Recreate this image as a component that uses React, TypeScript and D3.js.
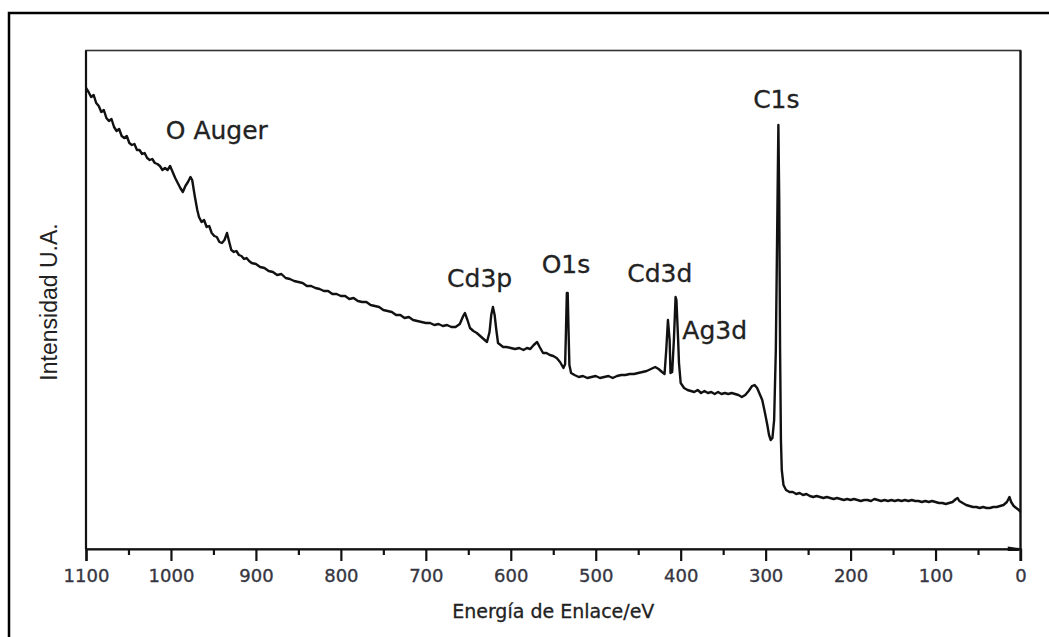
import React, { useEffect, useRef } from 'react';
import * as d3 from 'd3';

// XPS survey spectrum: [binding energy eV, intensity a.u.]
const augerRegion: [number, number][] = [
  [1100, 461], [1097, 457], [1094, 452], [1091, 454], [1088, 446], [1085, 443], [1082, 437],
  [1079, 439], [1076, 431], [1073, 428], [1070, 430], [1067, 422], [1064, 418], [1061, 420],
  [1058, 413], [1055, 411], [1052, 413], [1049, 406], [1046, 404], [1043, 405], [1040, 399],
  [1037, 399], [1034, 395], [1031, 396], [1028, 391], [1025, 389], [1022, 390], [1019, 386],
  [1016, 385], [1013, 383], [1010, 379], [1007, 381], [1004, 379], [1001, 383], [998, 377],
  [995, 371], [992, 366], [989, 361], [986, 357], [983, 363], [980, 367], [977, 372], [975, 369],
  [972, 353], [969, 339], [967, 332], [964, 327], [961, 329], [958, 322], [955, 323], [952, 316],
  [949, 313], [946, 312], [943, 307], [940, 306], [937, 309], [934, 316], [932, 309], [929, 299],
  [926, 297], [923, 298], [920, 294], [917, 293], [914, 290], [911, 291], [908, 288], [905, 286],
];

const backgroundRegion: [number, number][] = [
  [900, 285], [895, 282], [890, 281], [885, 278], [880, 277], [875, 274], [870, 275], [865, 271],
  [860, 270], [855, 268], [850, 267], [845, 266], [840, 263], [835, 263], [830, 261], [825, 260],
  [820, 258], [815, 258], [810, 255], [805, 255], [800, 253], [795, 253], [790, 250], [785, 251],
  [780, 248], [775, 247], [770, 247], [765, 244], [760, 243], [755, 242], [750, 239], [745, 238],
  [740, 237], [735, 234], [730, 234], [725, 231], [720, 232], [715, 229], [710, 228], [705, 227],
  [700, 226], [695, 226], [690, 224], [685, 225], [680, 223], [675, 224], [670, 222], [665, 222],
];

const cd3pRegion: [number, number][] = [
  [660, 225], [656, 233], [654, 236], [651, 229], [648, 221], [644, 218], [640, 216], [636, 213],
  [632, 210], [628, 207], [625, 217], [623, 234], [621, 242], [619, 234], [617, 219], [615, 206],
  [612, 204], [609, 202], [605, 202], [600, 201], [595, 200], [590, 201], [585, 199], [581, 201],
  [577, 200], [573, 204], [569, 207], [566, 202], [562, 196], [558, 196], [554, 194], [550, 193],
  [546, 191], [542, 187], [538, 181],
];

const o1sRegion: [number, number][] = [
  [536, 185], [535, 219], [534, 256], [533, 256], [532, 219], [531, 184], [529, 176], [525, 174],
  [520, 172], [515, 173], [510, 171], [505, 172], [500, 173], [495, 171], [490, 172], [485, 173],
  [480, 171], [475, 173], [470, 174], [465, 174], [460, 175], [455, 175], [450, 176], [445, 177],
  [440, 178], [435, 180], [430, 182], [426, 180], [422, 177], [419, 175],
];

const cd3dRegion: [number, number][] = [
  [417, 199], [415, 229], [413, 209], [412, 176], [410, 177], [408, 209], [406, 252], [405, 249],
  [403, 209], [402, 186], [400, 166], [396, 161], [392, 159], [388, 158], [384, 157], [380, 159],
  [376, 156], [372, 158], [368, 156], [364, 157], [360, 155], [356, 157], [352, 155], [348, 156],
  [344, 155], [340, 156], [336, 155], [332, 154], [328, 152], [324, 154], [320, 158], [316, 163],
  [313, 164], [310, 161], [307, 155], [304, 149], [301, 137], [298, 124], [296, 114], [294, 109],
  [292, 111], [290, 129],
];

const c1sRegion: [number, number][] = [
  [288, 199], [286, 349], [285, 424], [284, 349], [283, 199], [282, 109], [281, 79], [279, 64],
  [276, 59], [272, 57], [268, 57], [264, 55], [260, 56], [256, 54], [252, 55], [248, 53], [244, 52],
  [240, 53], [236, 52], [232, 51], [228, 52], [224, 51], [220, 50], [216, 51], [212, 50], [208, 49],
  [204, 50], [200, 49], [196, 50], [192, 49], [188, 48], [184, 49], [180, 49], [176, 48], [172, 50],
  [168, 49], [164, 48], [160, 49], [156, 48], [152, 49], [148, 48], [144, 49], [140, 48], [136, 49],
  [132, 48], [128, 49], [124, 48], [120, 48], [116, 47], [112, 48], [108, 47], [104, 48], [100, 47],
];

const valenceRegion: [number, number][] = [
  [96, 46], [92, 46], [88, 45], [84, 46], [80, 47], [76, 50], [74, 51], [72, 48], [68, 46], [64, 44],
  [60, 43], [56, 42], [52, 42], [48, 41], [44, 42], [40, 41], [36, 41], [32, 42], [28, 42], [24, 43],
  [20, 44], [16, 47], [13, 52], [11, 47], [8, 43], [5, 41], [2, 39], [0, 37],
];

const spectrum = [
  ...augerRegion, ...backgroundRegion, ...cd3pRegion, ...o1sRegion,
  ...cd3dRegion, ...c1sRegion, ...valenceRegion,
];

const xTicks = [1100, 1000, 900, 800, 700, 600, 500, 400, 300, 200, 100, 0];
const xMinorTicks = [1050, 950, 850, 750, 650, 550, 450, 350, 250, 150, 50];

// peak labels anchored at [eV, intensity]
const peakLabels: { text: string; ev: number; value: number }[] = [
  { text: 'O Auger', ev: 946, value: 410 },
  { text: 'Cd3p', ev: 636.6, value: 262 },
  { text: 'O1s', ev: 535, value: 276 },
  { text: 'Cd3d', ev: 424.6, value: 267.5 },
  { text: 'Ag3d', ev: 360, value: 210 },
  { text: 'C1s', ev: 287.4, value: 441 },
];

const xTitle = 'Energía de Enlace/eV';
const yTitle = 'Intensidad U.A.';

function App() {
  const ref = useRef<SVGSVGElement>(null);
  const width = 1049;
  const height = 637;
  const plot = { left: 86, right: 1020.5, top: 50.5, bottom: 549 };

  useEffect(() => {
    const svg = d3.select(ref.current);
    svg.selectAll('*').remove();

    const x = d3.scaleLinear().domain([1100, 0]).range([plot.left, plot.right]);
    const y = d3.scaleLinear().domain([0, 498.5]).range([plot.bottom, plot.top]);

    // outer picture border (left and top only are visible)
    svg.append('path')
      .attr('d', `M9,${height} V13 H${width}`)
      .attr('fill', 'none')
      .attr('stroke', '#000')
      .attr('stroke-width', 2.5);

    // plot frame
    svg.append('rect')
      .attr('x', plot.left)
      .attr('y', plot.top)
      .attr('width', plot.right - plot.left)
      .attr('height', plot.bottom - plot.top)
      .attr('fill', 'none')
      .attr('stroke', '#333')
      .attr('stroke-width', 1.6);

    // spectrum
    const line = d3.line<[number, number]>()
      .x((d) => x(d[0]))
      .y((d) => y(d[1]));

    svg.append('path')
      .datum(spectrum)
      .attr('d', line)
      .attr('fill', 'none')
      .attr('stroke', '#111')
      .attr('stroke-width', 2.4)
      .attr('stroke-linejoin', 'round');

    // axes
    const xAxis = svg.append('g')
      .attr('transform', `translate(0,${plot.bottom})`)
      .call(d3.axisBottom(x).tickValues(xTicks).tickSize(12).tickPadding(8).tickFormat(d3.format('d')));
    xAxis.select('.domain').attr('stroke', '#111').attr('stroke-width', 2.2);
    xAxis.selectAll('.tick line').attr('stroke', '#111').attr('stroke-width', 2.2);
    xAxis.selectAll('.tick text')
      .attr('fill', '#363642')
      .attr('stroke', '#363642')
      .attr('stroke-width', 0.35)
      .style('font-family', '"DejaVu Sans", sans-serif')
      .style('font-size', '18px');

    svg.append('g')
      .attr('transform', `translate(0,${plot.bottom})`)
      .call(d3.axisBottom(x).tickValues(xMinorTicks).tickSize(6).tickFormat(() => ''))
      .call((g) => g.select('.domain').remove())
      .selectAll('.tick line').attr('stroke', '#111').attr('stroke-width', 2.2);

    svg.append('line')
      .attr('x1', plot.left).attr('x2', plot.left)
      .attr('y1', plot.top).attr('y2', plot.bottom)
      .attr('stroke', '#111').attr('stroke-width', 2.2);
    svg.append('line')
      .attr('x1', plot.right).attr('x2', plot.right)
      .attr('y1', plot.top).attr('y2', plot.bottom + 12)
      .attr('stroke', '#111').attr('stroke-width', 2.2);

    // small arrow mark on the axis near 0 eV
    svg.append('path')
      .attr('d', `M${x(15)},${plot.bottom - 2.5} L${x(2)},${plot.bottom - 1} L${x(2)},${plot.bottom + 2} L${x(15)},${plot.bottom + 2} Z`)
      .attr('fill', '#111');

    // peak labels
    svg.append('g')
      .selectAll('text')
      .data(peakLabels)
      .enter()
      .append('text')
      .attr('x', (d) => x(d.ev))
      .attr('y', (d) => y(d.value))
      .attr('text-anchor', 'middle')
      .attr('fill', '#222')
      .attr('stroke', '#222')
      .attr('stroke-width', 0.3)
      .style('font-family', '"DejaVu Sans", sans-serif')
      .style('font-size', '25px')
      .text((d) => d.text);

    // axis titles
    svg.append('text')
      .attr('x', (plot.left + plot.right) / 2)
      .attr('y', 618)
      .attr('text-anchor', 'middle')
      .attr('fill', '#222')
      .attr('stroke', '#222')
      .attr('stroke-width', 0.3)
      .style('font-family', '"DejaVu Sans", sans-serif')
      .style('font-size', '19px')
      .text(xTitle);

    svg.append('text')
      .attr('transform', `translate(57,${302}) rotate(-90)`)
      .attr('text-anchor', 'middle')
      .attr('fill', '#222')
      .style('font-family', '"Liberation Sans", Arial, sans-serif')
      .style('font-size', '23px')
      .text(yTitle);
  });

  return (
    <div style={{ position: 'absolute', left: 0, top: 0, width, height, background: '#fff' }}>
      <svg ref={ref} width={width} height={height} />
    </div>
  );
}

export default App;
